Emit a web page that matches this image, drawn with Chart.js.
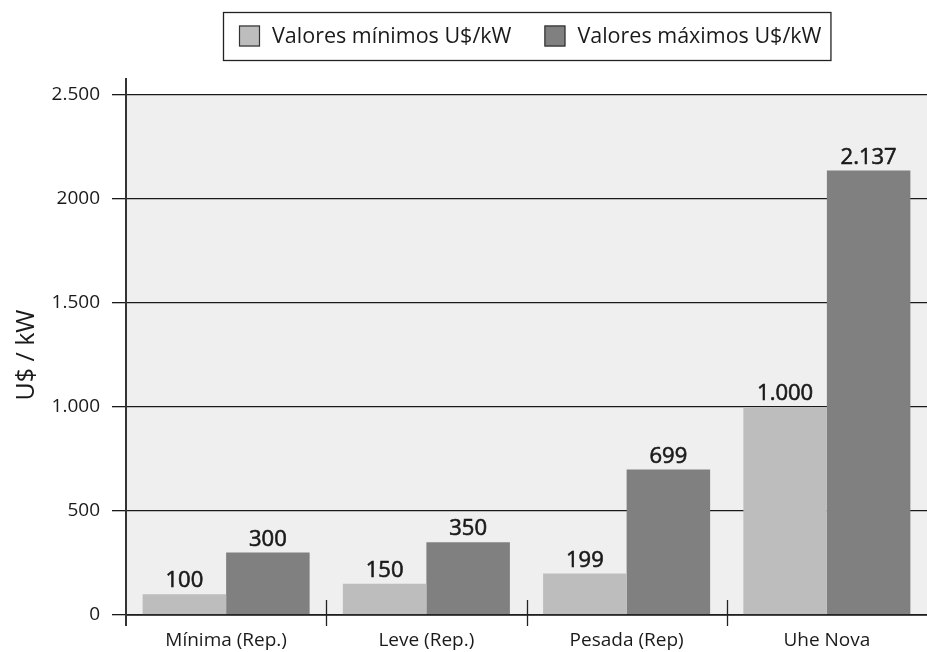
<!DOCTYPE html>
<html lang="pt-BR">
<head>
<meta charset="utf-8">
<title>Custos U$/kW</title>
<script src="https://cdn.jsdelivr.net/npm/chart.js@4/dist/chart.umd.min.js"></script>
<style>
  html, body { margin: 0; padding: 0; background: #ffffff; }
  #wrap { width: 927px; height: 652px; position: relative; }
</style>
</head>
<body>
<div id="wrap"><canvas id="chart" width="927" height="652"></canvas></div>
<script>
// Categories and values (U$/kW)
const categories = ['Mínima (Rep.)', 'Leve (Rep.)', 'Pesada (Rep)', 'Uhe Nova'];
const valoresMinimos = [100, 150, 199, 1000];
const valoresMaximos = [300, 350, 699, 2137];
const seriesNames = ['Valores mínimos U$/kW', 'Valores máximos U$/kW'];
const yTickValues = [0, 500, 1000, 1500, 2000, 2500];
const yTickLabels = ['0', '500', '1.000', '1.500', '2000', '2.500'];

const FONT = '"Open Sans", "DejaVu Sans", sans-serif';
const INK = '#1a1a1a';

// thousands separator with a dot
function fmt(v) {
  return String(v).replace(/\B(?=(\d{3})+(?!\d))/g, '.');
}

// grey panel behind the plot
const panelPlugin = {
  id: 'panel',
  beforeDraw(chart) {
    const { ctx, chartArea: a } = chart;
    ctx.save();
    ctx.fillStyle = '#efefef';
    ctx.fillRect(a.left, a.top, a.right - a.left, a.bottom - a.top);
    ctx.restore();
  }
};

// axis line extensions, category separators and value labels
const decorPlugin = {
  id: 'decor',
  afterDatasetsDraw(chart) {
    const { ctx, chartArea: a, scales } = chart;
    const x = scales.x;
    ctx.save();
    // x axis line
    ctx.strokeStyle = '#222';
    ctx.lineWidth = 1.3;
    ctx.beginPath();
    ctx.moveTo(a.left, a.bottom);
    ctx.lineTo(a.right, a.bottom);
    ctx.stroke();
    // y axis line, running past the plot on both ends
    ctx.lineWidth = 2;
    ctx.strokeStyle = '#333';
    ctx.beginPath();
    ctx.moveTo(a.left, a.top - 17);
    ctx.lineTo(a.left, a.bottom + 11);
    ctx.stroke();
    // separators between categories
    ctx.lineWidth = 1.3;
    ctx.strokeStyle = '#222';
    const half = (x.getPixelForValue(1) - x.getPixelForValue(0)) / 2;
    for (let i = 1; i < categories.length; i++) {
      const px = Math.round(x.getPixelForValue(i) - half) + 0.5;
      ctx.beginPath();
      ctx.moveTo(px, a.bottom - 15);
      ctx.lineTo(px, a.bottom + 11);
      ctx.stroke();
    }
    // value labels over the bars, slightly heavier than body text
    ctx.fillStyle = INK;
    ctx.strokeStyle = INK;
    ctx.lineWidth = 0.6;
    ctx.font = '500 22px ' + FONT;
    ctx.textAlign = 'center';
    ctx.textBaseline = 'alphabetic';
    chart.data.datasets.forEach((ds, di) => {
      chart.getDatasetMeta(di).data.forEach((bar, i) => {
        const t = fmt(ds.data[i]);
        ctx.fillText(t, bar.x, bar.y - 7);
        ctx.strokeText(t, bar.x, bar.y - 7);
      });
    });
    ctx.restore();
  }
};

// boxed legend centred over the plot
const boxLegendPlugin = {
  id: 'boxLegend',
  afterDraw(chart) {
    const { ctx, chartArea: a } = chart;
    const sw = 21, gapText = 12, gapItem = 33, padL = 16, padR = 9;
    ctx.save();
    ctx.font = '21.5px ' + FONT;
    const items = chart.data.datasets.map(ds => ({
      label: ds.label, color: ds.backgroundColor, w: ctx.measureText(ds.label).width
    }));
    let total = padL + padR;
    items.forEach((it, i) => { total += sw + gapText + it.w + (i ? gapItem : 0); });
    const top = 12, h = 48;
    const left = Math.round((a.left + a.right) / 2 - total / 2);
    ctx.fillStyle = '#fff';
    ctx.fillRect(left, top, total, h);
    ctx.strokeStyle = '#222';
    ctx.lineWidth = 1.3;
    ctx.strokeRect(left + 0.5, top + 0.5, total, h);
    let cx = left + padL;
    const cy = top + h / 2;
    items.forEach((it, i) => {
      if (i) cx += gapItem;
      ctx.fillStyle = it.color;
      ctx.fillRect(cx, cy - sw / 2, sw, sw);
      ctx.strokeStyle = '#333';
      ctx.lineWidth = 1.2;
      ctx.strokeRect(cx + 0.5, cy - sw / 2 + 0.5, sw - 1, sw - 1);
      cx += sw + gapText;
      ctx.fillStyle = INK;
      ctx.textAlign = 'left';
      ctx.textBaseline = 'middle';
      ctx.fillText(it.label, cx, cy + 1);
      cx += it.w;
    });
    ctx.restore();
  }
};

new Chart(document.getElementById('chart'), {
  type: 'bar',
  data: {
    labels: categories,
    datasets: [
      { label: seriesNames[0], data: valoresMinimos, backgroundColor: '#bdbdbd' },
      { label: seriesNames[1], data: valoresMaximos, backgroundColor: '#808080' }
    ]
  },
  options: {
    responsive: false,
    animation: false,
    events: [],
    layout: { padding: { top: 95, right: 0, left: 0, bottom: 0 } },
    datasets: { bar: { categoryPercentage: 0.834, barPercentage: 1.0, borderWidth: 0 } },
    plugins: { legend: { display: false }, tooltip: { enabled: false } },
    scales: {
      x: {
        grid: { display: false },
        border: { display: false },
        ticks: { color: INK, font: { family: FONT, size: 19 }, padding: 6, maxRotation: 0 },
        afterFit(s) { s.height = 37; }
      },
      y: {
        min: 0,
        max: 2500,
        afterBuildTicks(s) { s.ticks = yTickValues.map(v => ({ value: v })); },
        ticks: {
          color: INK,
          font: { family: FONT, size: 19 },
          padding: 12,
          callback: (v) => yTickLabels[yTickValues.indexOf(v)]
        },
        grid: { color: '#1a1a1a', lineWidth: 1.3, tickLength: 14, tickColor: '#1a1a1a' },
        border: { display: false },
        title: { display: true, text: 'U$ / kW', color: INK, font: { family: FONT, size: 25 }, padding: { top: 12, bottom: 0 } },
        afterFit(s) { s.width = 126; }
      }
    }
  },
  plugins: [panelPlugin, decorPlugin, boxLegendPlugin]
});
</script>
</body>
</html>
